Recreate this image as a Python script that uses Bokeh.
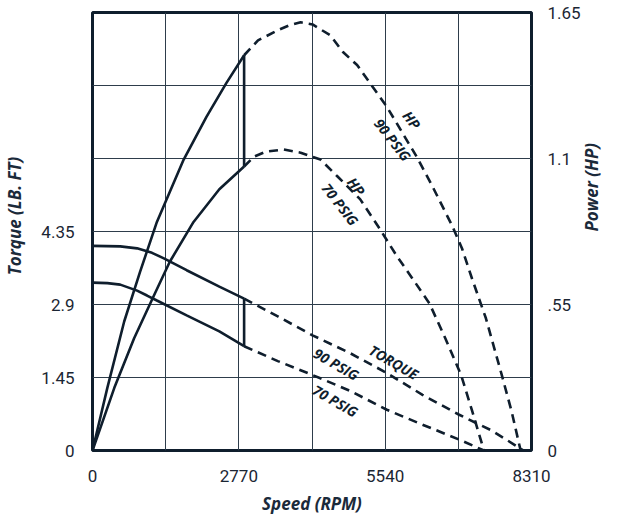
import math
from bokeh.plotting import figure
from bokeh.models import Range1d, LinearAxis, FixedTicker, Label
from bokeh.embed import file_html
from bokeh.resources import INLINE

# ---------------- data ----------------
speed_max = 8310
torque_max = 8.7
power_max = 1.65

x_ticks = [0, 2770, 5540, 8310]
x_grid = [1385, 2770, 4155, 5540, 6925]
torque_ticks = [0, 1.45, 2.9, 4.35]
torque_tick_labels = ["0", "1.45", "2.9", "4.35"]
y_grid = [1.45, 2.9, 4.35, 5.8, 7.25]
power_ticks = [0, 0.55, 1.1, 1.65]
power_tick_labels = ["0", ".55", "1.1", "1.65"]

cutoff_rpm = 2870

hp90_solid_rpm = [0, 281, 600, 900, 1219, 1726, 2157, 2533, 2870]
hp90_solid = [0, 0.236, 0.486, 0.673, 0.861, 1.096, 1.257, 1.384, 1.489]
hp90_dash_rpm = [2870, 3133, 3508, 3714, 3940, 4165, 4502, 4746, 5009, 5253, 5572,
                 6135, 6435, 6810, 6997, 7185, 7447, 7748, 7935, 8104]
hp90_dash = [1.489, 1.545, 1.583, 1.601, 1.613, 1.605, 1.564, 1.500, 1.452, 1.384, 1.295,
             1.107, 0.995, 0.846, 0.760, 0.647, 0.498, 0.284, 0.146, 0.0]

hp70_solid_rpm = [0, 413, 788, 1163, 1463, 1913, 2401, 2870]
hp70_solid = [0, 0.236, 0.423, 0.584, 0.711, 0.861, 0.984, 1.070]
hp70_dash_rpm = [2870, 3058, 3283, 3621, 3940, 4315, 4634, 5065, 5440, 5759, 6059,
                 6378, 6678, 6978, 7185, 7410]
hp70_dash = [1.070, 1.107, 1.126, 1.134, 1.122, 1.096, 1.033, 0.947, 0.834, 0.733, 0.647,
             0.554, 0.423, 0.284, 0.150, 0.0]

tq90_solid_rpm = [0, 525, 844, 1126, 1351, 1782, 2401, 2870]
tq90_solid = [4.064, 4.054, 4.015, 3.926, 3.817, 3.581, 3.255, 3.018]
tq90_dash_rpm = [2870, 3508, 4165, 4878, 5572, 6247, 6941, 7560, 8160]
tq90_dash = [3.018, 2.663, 2.288, 1.933, 1.539, 1.105, 0.710, 0.395, 0.0]

tq70_solid_rpm = [0, 281, 525, 844, 1032, 1219, 1782, 2401, 2870]
tq70_solid = [3.334, 3.324, 3.295, 3.176, 3.078, 2.979, 2.683, 2.367, 2.071]
tq70_dash_rpm = [2870, 3508, 4165, 4878, 5572, 6247, 6941, 7410]
tq70_dash = [2.071, 1.776, 1.499, 1.184, 0.809, 0.513, 0.217, 0.0]

# ---------------- style ----------------
INK = "#0f1e2d"
GRID = "#2e3d4b"
TICK_FONT = "Roboto"
LABEL_FONT = "Open Sans"
LW = 2.6
DASH = "9 6"
NB = "\u00a0"

p = figure(width=617, height=517,
           x_range=Range1d(0, speed_max), y_range=Range1d(0, torque_max),
           output_backend="svg", toolbar_location=None,
           min_border_left=90, min_border_right=84,
           min_border_top=12, min_border_bottom=64)
p.extra_y_ranges = {"power": Range1d(0, power_max)}
p.background_fill_color = "white"
p.border_fill_color = "white"
p.outline_line_color = INK
p.outline_line_width = 3

def style_axis(ax, standoff):
    ax.axis_line_color = None
    ax.major_tick_line_color = None
    ax.minor_tick_line_color = None
    ax.major_label_standoff = standoff
    ax.major_label_text_font = TICK_FONT
    ax.major_label_text_font_size = "17px"
    ax.major_label_text_color = "#1b2633"
    ax.axis_label_text_font = LABEL_FONT
    ax.axis_label_text_font_style = "bold italic"
    ax.axis_label_text_font_size = "17px"
    ax.axis_label_text_color = "#1b2a3a"

p.xaxis.ticker = FixedTicker(ticks=x_ticks)
style_axis(p.xaxis[0], 13)
p.xaxis.axis_label = "Speed (RPM)"
p.xaxis.axis_label_standoff = 7

p.yaxis.ticker = FixedTicker(ticks=torque_ticks)
p.yaxis.major_label_overrides = dict(zip(torque_ticks, torque_tick_labels))
style_axis(p.yaxis[0], 12)
p.yaxis.axis_label = NB * 7 + "Torque (LB. FT)"
p.yaxis.axis_label_standoff = 12

right = LinearAxis(y_range_name="power", ticker=FixedTicker(ticks=power_ticks))
right.major_label_overrides = dict(zip(power_ticks, power_tick_labels))
style_axis(right, 10)
right.axis_label = "Power (HP)"
right.axis_label_standoff = 8
right.axis_label_orientation = math.pi / 2
p.add_layout(right, "right")

p.xgrid.ticker = FixedTicker(ticks=x_grid)
p.ygrid.ticker = FixedTicker(ticks=y_grid)
for g in (p.xgrid[0], p.ygrid[0]):
    g.grid_line_color = GRID
    g.grid_line_width = 1

# curves
p.line(hp90_solid_rpm, hp90_solid, y_range_name="power", line_color=INK, line_width=LW)
p.line(hp90_dash_rpm, hp90_dash, y_range_name="power", line_color=INK, line_width=LW, line_dash=DASH)
p.line(hp70_solid_rpm, hp70_solid, y_range_name="power", line_color=INK, line_width=LW)
p.line(hp70_dash_rpm, hp70_dash, y_range_name="power", line_color=INK, line_width=LW, line_dash=DASH)
p.line([cutoff_rpm, cutoff_rpm], [hp70_solid[-1], hp90_solid[-1]], y_range_name="power",
       line_color=INK, line_width=LW)

p.line(tq90_solid_rpm, tq90_solid, line_color=INK, line_width=LW)
p.line(tq90_dash_rpm, tq90_dash, line_color=INK, line_width=LW, line_dash=DASH)
p.line(tq70_solid_rpm, tq70_solid, line_color=INK, line_width=LW)
p.line(tq70_dash_rpm, tq70_dash, line_color=INK, line_width=LW, line_dash=DASH)
p.line([cutoff_rpm, cutoff_rpm], [tq70_solid[-1], tq90_solid[-1]],
       line_color=INK, line_width=LW)

def tag(x, y, text, deg, rng="default"):
    p.add_layout(Label(x=x, y=y, text=text, angle=math.radians(deg), y_range_name=rng,
                       text_font=LABEL_FONT, text_font_style="bold italic",
                       text_font_size="14px", text_color=INK,
                       text_align="center", text_baseline="middle"))

tag(6041, 1.246, "HP", -52, "power")
tag(5684, 1.171, "90 PSIG", -52, "power")
tag(4990, 0.995, "HP", -52, "power")
tag(4690, 0.928, "70 PSIG", -52, "power")
tag(5703, 1.756, "TORQUE", -30)
tag(4615, 1.716, "90 PSIG", -30)
tag(4596, 0.986, "70 PSIG", -30)

open("out.html", "w").write(file_html(p, INLINE))
